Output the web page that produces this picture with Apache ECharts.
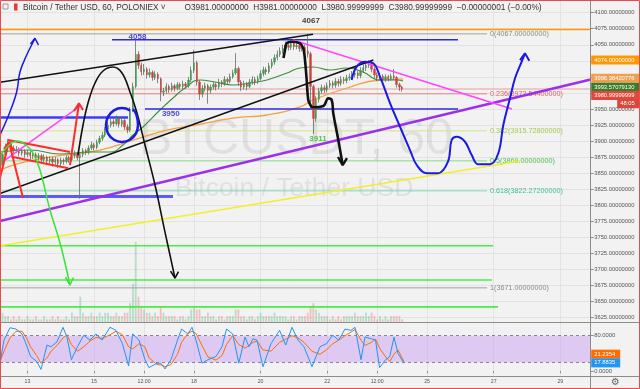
<!DOCTYPE html>
<html><head><meta charset="utf-8">
<script src="https://cdn.jsdelivr.net/npm/echarts@6/dist/echarts.min.js"></script>
<style>html,body{margin:0;padding:0;background:#f2f2f2}#c{width:640px;height:389px}</style>
</head><body><div id="c"></div><script>
// ---------- DATA ----------
const candleStartDay = 12 + 4 / 24;   // Jan 12, 04:00
const candleHours = 2;
const firstOpen = 3858;
const closes = [3862,3879,3891,3897,3889,3885,3887,3881,3884,3879,
3882,3877,3879,3874,3877,3871,3875,3869,3872,3867,
3871,3865,3870,3868,3874,3871,3877,3880,3874,3879,
3885,3882,3889,3894,3890,3898,3904,3909,3918,3925,
3930,3927,3935,3926,3932,3922,3917,3948,3985,4035,
4018,4008,4012,4003,4007,3999,4004,3997,3976,3978,
3985,3980,3986,3982,3988,3985,3989,3986,3995,4010,
4022,3992,3973,3982,3986,3979,3984,3988,3984,3992,
3989,3996,3993,4000,4006,4013,3992,3984,3989,3985,
3992,3996,3992,3997,4005,4011,4008,4017,4023,4030,
4035,4040,4044,4049,4046,4052,4047,4049,4044,4046,
4040,4036,3985,3935,3965,3978,3983,3980,3986,3990,
3987,3993,3990,3996,3994,3998,4000,4003,4006,4002,
4010,4014,4018,4021,4012,4003,3998,4001,3996,4000,
3997,4001,3999,3988,3984,3981];
const highs = [3868,3884,3896,3903,3900,3893,3892,3890,3889,3887,
3886,3885,3884,3882,3881,3880,3879,3877,3876,3875,
3875,3873,3874,3873,3878,3877,3881,3885,3883,3883,
3889,3888,3893,3899,3897,3902,3908,3914,3922,3930,
3936,3934,3940,3938,3937,3934,3926,3953,3991,4058,
4040,4022,4020,4015,4013,4010,4009,4007,3999,3983,
3990,3988,3991,3989,3992,3991,3994,3992,4000,4016,
4042,4025,3995,3987,3991,3989,3988,3993,3991,3997,
3995,4001,3999,4005,4011,4037,4016,3995,3994,3992,
3997,4001,4000,4002,4010,4016,4015,4022,4028,4035,
4041,4046,4050,4055,4054,4057,4056,4055,4053,4052,
4050,4067,4039,3988,3970,3983,3988,3987,3991,3995,
3994,3998,3997,4001,4000,4003,4005,4009,4016,4010,
4015,4019,4023,4026,4024,4015,4007,4006,4004,4004,
4003,4005,4012,4001,3991,3986];
const lows = [3852,3860,3876,3887,3884,3880,3881,3876,3877,3874,
3875,3871,3872,3868,3870,3866,3867,3862,3865,3860,
3863,3858,3861,3863,3865,3866,3868,3873,3870,3810,
3875,3878,3879,3886,3885,3887,3895,3900,3906,3914,
3921,3922,3924,3921,3922,3917,3912,3914,3945,3982,
4012,4002,4003,3997,3999,3994,3995,3990,3962,3970,
3974,3975,3977,3977,3979,3980,3981,3981,3983,3992,
4006,3986,3964,3968,3977,3958,3974,3980,3979,3981,
3984,3986,3988,3990,3997,4003,3986,3978,3980,3979,
3982,3988,3987,3989,3994,4001,4003,4005,4013,4019,
4026,4031,4036,4040,4041,4042,4042,4043,4039,4040,
4034,4030,3950,3911,3930,3960,3974,3975,3976,3982,
3982,3983,3985,3986,3989,3990,3994,3996,3999,3997,
3998,4006,4009,4014,4007,3998,3993,3994,3991,3992,
3993,3994,3995,3983,3978,3977];
const volumes = [2,3,2,2,1,2,1,2,1,1, 2,1,1,2,1,1,2,1,1,2, 1,2,1,1,2,1,3,2,2,8,
3,2,2,3,2,2,3,2,3,3, 2,2,3,2,2,3,3,6,12,25, 8,5,4,3,3,2,3,2,5,3,
2,2,2,2,1,2,2,1,2,4, 5,4,4,2,2,3,2,2,1,2, 2,1,2,2,2,4,4,2,2,1,
2,2,1,2,3,2,2,2,2,3, 2,2,2,2,1,2,2,1,2,2, 2,3,5,6,4,3,2,2,2,1,
2,1,2,1,2,2,2,2,3,2, 2,2,3,2,3,2,1,2,1,2, 1,2,2,2,2,1];

// moving averages [day, price]
const maGreen = [[12.174,3882.8],[13.075,3885.9],[13.976,3879.7],[14.877,3882.8],[15.477,3882.8],[15.868,3893.7],[16.168,3909.3],[16.468,3921.8],[16.979,3948.3],[17.369,3967.0],[17.730,3982.6],[18.180,3995.1],[18.630,3992.0],[19.171,3987.3],[19.682,3990.4],[20.192,3995.1],[20.793,4006.0],[21.183,4013.8],[21.573,4015.3],[22.084,4010.6],[22.594,4013.8],[23.075,4007.5],[23.585,3995.1],[24.096,3995.1],[24.276,3993.6]];
const maOrange = [[12.174,3854.7],[12.775,3865.6],[13.676,3875.0],[15.177,3885.9],[16.168,3901.5],[17.189,3917.1],[18.180,3926.0],[19.171,3935.8],[20.192,3940.5],[21.183,3953.0],[21.573,3963.9],[22.594,3982.6],[23.585,3995.1],[24.276,3996.4]];

// stochastic
const stochDays = [12.174,12.294,12.474,12.654,12.835,12.970,13.093,13.276,13.405,13.585,13.706,13.886,14.066,14.186,14.318,14.501,14.688,14.877,15.057,15.237,15.477,15.657,15.850,16.036,16.159,16.348,16.528,16.648,16.889,17.009,17.129,17.309,17.504,17.627,17.814,17.940,18.060,18.240,18.420,18.660,18.841,18.976,19.162,19.345,19.531,19.651,19.772,19.892,20.072,20.312,20.570,20.754,20.943,21.123,21.303,21.543,21.783,21.979,22.165,22.348,22.534,22.714,22.835,23.015,23.135,23.327,23.450,23.573,23.757,23.880,24.006,24.126,24.306];
const stochK = [18,70,98,95,84,59,33,22,4,59, 55,66,99,77,26,55,81,70,84,70, 99,92,62,12,84,70,26,8,18,18, 5,26,70,95,84,99,70,18,26,33, 55,95,84,18,77,55,73,70,10,62, 92,59,99,70,55,10,55,62,81,70, 95,92,99,26,77,73,70,8,26,33, 77,40,17.8835];
const stochD = [22,45,75,90,90,75,55,35,18,30, 45,58,75,82,60,45,55,68,76,74, 82,90,82,55,50,62,55,30,15,14, 10,15,38,65,85,90,85,58,32,25, 35,60,80,60,52,58,65,68,48,45, 65,72,80,75,65,45,38,48,62,70, 80,88,94,70,58,65,72,52,32,22, 38,48,21.2354];

// axis ticks
const timeTicks = [13,15,16.5,18,20,22,23.5,25,27,29];
const timeTickLabels = ['13','15','12:00','18','20','22','12:00','25','27','29'];
const priceTicks = [3625,3650,3675,3700,3725,3750,3775,3800,3825,3850,3875,3900,3925,3950,3975,4000,4025,4050,4075,4100];
const stochTicks = [0,80];

// fibonacci retracement
const fibRatios = ['0','0.236','0.382','0.5','0.618','1'];
const fibPrices = [4067,3973.544,3915.728,3869,3822.272,3671];
const fibEndDay = 26.80;

// drawings [day, price]
const purpleLine = [[12.174,3775.2],[29.913,3995.8]];
const yellowLine = [[12.174,3736.7],[27.790,3868.7]];
const magentaRight = [[20.973,4057.4],[27.549,3949.8]];
const magentaLeft = [[12.324,3870.3],[14.576,3954.5]];
const blackUpper = [[12.174,3991.5],[21.573,4066.3]];
const blackLower = [[12.174,3818.1],[23.385,4026.2]];
const redFlagTop = [[12.414,3901.5],[14.276,3882.8]];
const redFlagBottom = [[12.525,3875.5],[14.225,3857.4]];
const redArrowUp = [[14.276,3862.5],[14.546,3958.7]];
const redArrowUpHead = [[14.396,3946.7],[14.546,3958.7],[14.667,3948.3]];
const redLeftArrow = [[12.174,3842.3],[12.444,3898.4]];
const redLeftHead = [[12.294,3887.5],[12.444,3898.4],[12.564,3885.9]];
const redDiag = [[12.444,3898.4],[12.865,3811.1]];
const greenCurve = [[12.174,3876.6],[12.414,3892.1],[12.685,3899.9],[12.955,3893.7],[13.165,3881.2],[13.375,3854.7],[13.676,3792.3],[13.976,3740.9],[14.276,3675.4]];
const greenHead = [[14.141,3687.9],[14.276,3675.4],[14.381,3687.1]];
const blackCurve1 = [[14.516,3878.1],[14.667,3924.9],[14.817,3959.2],[15.027,3990.4],[15.267,4009.1],[15.567,4015.3],[15.838,4006.0],[16.078,3976.3],[16.288,3943.6],[16.528,3893.7],[16.829,3831.3],[17.129,3758.0],[17.429,3686.3]];
const blackHead1 = [[17.294,3697.2],[17.429,3686.3],[17.534,3696.4]];
const blackCurve2 = [[20.688,4029.4],[20.733,4041.8],[20.783,4052.3],[20.934,4054.8],[21.183,4052.3],[21.282,4044.5],[21.333,4026.2],[21.384,3995.1],[21.432,3963.9],[21.513,3954.5],[21.583,3952.5],[21.883,3954.5],[22.033,3966.5],[22.135,3963.9],[22.183,3943.1],[22.333,3901.5],[22.465,3862.5]];
const blackHead2 = [[22.324,3875.0],[22.465,3862.5],[22.594,3873.4]];
const blueForecast = [[22.735,3995.1],[22.886,4015.8],[23.135,4023.6],[23.384,4021.1],[23.585,4000.2],[23.886,3959.2],[24.186,3922.2],[24.486,3885.9],[24.688,3862.5],[24.988,3849.6],[25.327,3849.6],[25.627,3867.7],[25.738,3901.5],[25.888,3906.6],[26.138,3898.8],[26.339,3878.1],[26.538,3863.6],[26.889,3863.6],[27.138,3880.8],[27.288,3924.9],[27.489,3966.5],[27.640,3997.7],[27.841,4023.6],[27.940,4036.7]];
const blueForecastHead = [[27.790,4026.2],[27.940,4036.7],[28.069,4025.1]];
const blueLeftArrow = [[12.174,3909.3],[12.474,3945.6],[12.676,3976.8],[12.775,4008.0],[12.976,4034.0],[13.174,4054.8],[13.225,4060.1]];
const blueLeftHead = [[13.090,4051.2],[13.225,4060.1],[13.330,4049.6]];
const blueCircle = [[16.078,3947.8],[15.838,3951.4],[15.597,3947.8],[15.420,3938.1],[15.357,3924.9],[15.420,3911.6],[15.597,3902.0],[15.838,3898.4],[16.078,3902.0],[16.255,3911.6],[16.318,3924.9],[16.273,3940.5],[16.168,3949.8]];

// horizontal lines [price, fromDay, toDay]
const hOrange = [4074, 12.174, 29.913];
const hLast = [3981, 12.174, 29.913];
const hBlue4058 = [4058, 15.537, 25.928];
const hBlue3950 = [3950, 16.528, 25.928];
const hBlueLeft = [3936.6, 12.174, 16.018];
const hBlueLow = [3813.4, 12.174, 17.369];
const hGreens = [[3736.7, 12.174, 26.979],[3683.2, 12.174, 26.949],[3641.3, 12.174, 27.129]];

// text marks [day, price, text]
const textMarks = [[21.513,4087.1,'4067','#111'],[16.303,4062.6,'4058','#2020d0'],[17.303,3943.1,'3950','#2020d0'],[21.723,3904.1,'3911','#22bb22']];

// right-axis value tags [price position, text]
const priceTags = [[4026.2,'4074.00000000','#ff9800'],[3997.7,'3996.38420776','#eea050'],[3983.7,'3993.57079130','#3a7d2c'],[3970.9,'3980.99999999','#e3473b']];
const countdownTag = [3958.1,'48:05','#d9463a'];
const stochTags = [[38.4,'21.2354','#ff6d00'],[18.7,'17.8835','#2196f3']];

// ---------- CHART ----------
const X_MIN = 12.174, X_MAX = 29.913, P_MIN = 3617.0, P_MAX = 4119.8, S_MIN = -10.9, S_MAX = 109.8;
const FONT = 'Liberation Sans, Arial, sans-serif';
const t = i => candleStartDay + i * candleHours / 24;
const opens = closes.map((c, i) => i === 0 ? firstOpen : closes[i - 1]);
const CLEAR = 'rgba(0,0,0,0)';

const series = [];
function addLine(points, color, width, extra) {
  series.push(Object.assign({type: 'line', xAxisIndex: 0, yAxisIndex: 0, data: points, symbol: 'none',
    silent: true, animation: false, lineStyle: {color: color, width: width}, z: 4}, extra || {}));
}
function addH(h, color, width, extra) { addLine([[h[1], h[0]], [h[2], h[0]]], color, width, extra); }

// volume
series.push({type: 'bar', xAxisIndex: 0, yAxisIndex: 2, barWidth: 1.8, silent: true, animation: false, z: 1,
  data: volumes.map((v, i) => ({value: [t(i), v], itemStyle: {color: closes[i] >= opens[i] ? 'rgba(70,175,110,0.33)' : 'rgba(230,90,90,0.33)'}}))});

// fib
const fibLineColors = ['#a0a0a0','#e88080','#cfe38a','#86dc86','#7fd8c0','#a0a0a0'];
const fibTextColors = ['#8a8a8a','#e06060','#a5c84a','#4cbf4c','#40c09c','#8a8a8a'];
fibPrices.forEach((p, k) => {
  addLine([[X_MIN, p], [fibEndDay, p]], fibLineColors[k], 1, {z: 3,
    endLabel: {show: true, formatter: fibRatios[k] + '(' + p.toFixed(8) + ')', color: fibTextColors[k], fontSize: 7.2, fontFamily: FONT, distance: 3}});
});

addH(hOrange, '#ff9800', 1.5, {z: 3});
addH(hLast, 'rgba(225,90,80,0.55)', 1, {z: 3});
addH(hBlue4058, '#2a2ae0', 1.5);
addH(hBlue3950, '#2a2ae0', 1.5);
addH(hBlueLeft, '#3b3bff', 2.5);
addH(hBlueLow, '#5a5aff', 3);
hGreens.forEach(h => addH(h, '#44ee44', 1.6));

// MAs
addLine(maOrange, '#f5a040', 1.3, {smooth: 0.5, z: 3});
addLine(maGreen, '#3c8f3c', 1.1, {smooth: 0.5, z: 3});

// candles: wicks then bodies
series.push({type: 'candlestick', xAxisIndex: 0, yAxisIndex: 0, silent: true, animation: false, z: 5, barWidth: 0.6,
  encode: {x: 0, y: [1, 2, 3, 4]},
  data: closes.map((c, i) => [t(i), opens[i], c, lows[i], highs[i]]),
  itemStyle: {color: '#666', color0: '#666', borderColor: '#6a6a6a', borderColor0: '#6a6a6a', borderWidth: 0.8}});
series.push({type: 'candlestick', xAxisIndex: 0, yAxisIndex: 0, silent: true, animation: false, z: 6, barWidth: 1.9,
  encode: {x: 0, y: [1, 2, 3, 4]},
  data: closes.map((c, i) => [t(i), opens[i], c, Math.min(opens[i], c), Math.max(opens[i], c)]),
  itemStyle: {color: '#3f9b4f', color0: '#c8443a', borderColor: '#3f9b4f', borderColor0: '#c8443a', borderWidth: 0.4}});

// trend lines
addLine(purpleLine, '#9b30e8', 2.5, {z: 7});
addLine(yellowLine, '#f0f028', 1.6, {z: 7});
addLine(magentaRight, '#ff44ff', 1.5, {z: 7});
addLine(magentaLeft, '#ff44ff', 1.5, {z: 7});
addLine(blackUpper, '#111', 1.6, {z: 7});
addLine(blackLower, '#111', 1.6, {z: 7});

// hand drawings
const red = '#ff2a2a';
[redFlagTop, redFlagBottom, redArrowUp, redArrowUpHead, redLeftArrow, redLeftHead, redDiag].forEach(p => addLine(p, red, 2, {z: 8}));
addLine(greenCurve, '#33e633', 1.5, {smooth: 0.4, z: 8});
addLine(greenHead, '#33e633', 1.5, {z: 8});
addLine(blackCurve1, '#111', 1.6, {smooth: 0.4, z: 8});
addLine(blackHead1, '#111', 1.6, {z: 8});
addLine(blackCurve2, '#111', 2.6, {smooth: 0.4, z: 8});
addLine(blackHead2, '#111', 2.4, {z: 8});
addLine(blueForecast, '#1a1ae6', 2, {smooth: 0.4, z: 8});
addLine(blueForecastHead, '#1a1ae6', 2, {z: 8});
addLine(blueLeftArrow, '#1a1ae6', 1.5, {smooth: 0.4, z: 8});
addLine(blueLeftHead, '#1a1ae6', 1.5, {z: 8});
addLine(blueCircle, '#1a1ae6', 2.5, {smooth: 0.5, z: 8});

// text marks
series.push({type: 'scatter', xAxisIndex: 0, yAxisIndex: 0, symbolSize: 0, silent: true, animation: false, z: 9,
  data: textMarks.map(m => ({value: [m[0], m[1]], label: {show: true, position: 'inside', formatter: m[2], color: m[3], fontSize: 8, fontWeight: 'bold', fontFamily: FONT}}))});

// right axis tags
function tagItem(price, text, bg, dist, width) {
  return {yAxis: price, lineStyle: {color: CLEAR, width: 0},
    label: {show: true, position: 'end', distance: dist, formatter: text, color: '#fff', backgroundColor: bg, opacity: 1,
      fontSize: 5.8, fontFamily: FONT, lineHeight: 7, padding: [1, 2, 1, 3], width: width}};
}
series.push({type: 'line', xAxisIndex: 0, yAxisIndex: 0, data: [[X_MIN, P_MIN]], symbol: 'none', silent: true, animation: false,
  lineStyle: {color: CLEAR, width: 0}, z: 20,
  markLine: {symbol: 'none', silent: true, animation: false, lineStyle: {color: CLEAR, width: 0}, z: 20,
    data: priceTags.map(g => tagItem(g[0], g[1], g[2], 0.5, 44)).concat([tagItem(countdownTag[0], countdownTag[1], countdownTag[2], 26.5, 18)])}});

// stochastic
series.push({type: 'line', xAxisIndex: 1, yAxisIndex: 1, data: stochDays.map((d, i) => [d, stochD[i]]), symbol: 'none', silent: true, animation: false,
  lineStyle: {color: '#ff6d00', width: 1}, z: 4,
  markArea: {silent: true, itemStyle: {color: 'rgba(190,140,240,0.4)'}, data: [[{yAxis: 20}, {yAxis: 80}]]},
  markLine: {symbol: 'none', silent: true, animation: false, z: 3, lineStyle: {color: '#8e7e9e', type: [3, 3], width: 1},
    label: {show: false}, data: [{yAxis: 80}, {yAxis: 20}]}});
series.push({type: 'line', xAxisIndex: 1, yAxisIndex: 1, data: stochDays.map((d, i) => [d, stochK[i]]), symbol: 'none', silent: true, animation: false,
  lineStyle: {color: '#2196f3', width: 1}, z: 5});
series.push({type: 'line', xAxisIndex: 1, yAxisIndex: 1, data: [[X_MIN, 0]], symbol: 'none', silent: true, animation: false,
  lineStyle: {color: CLEAR, width: 0}, z: 20,
  markLine: {symbol: 'none', silent: true, animation: false, lineStyle: {color: CLEAR, width: 0}, z: 20,
    data: stochTags.map(g => tagItem(g[0], g[1], g[2], 0.5, 24))}});

const timeFmt = v => { const k = timeTicks.findIndex(x => Math.abs(x - v) < 1e-6); return k < 0 ? '' : timeTickLabels[k]; };
const gridColor = '#e3e3e3';

const option = {
  animation: false,
  backgroundColor: '#f2f2f2',
  grid: [
    {left: 0, top: 0, width: 590.7, height: 322.5},
    {left: 0, top: 322.5, width: 590.7, height: 53.5}
  ],
  xAxis: [
    {type: 'value', gridIndex: 0, min: X_MIN, max: X_MAX, axisLine: {show: false}, axisLabel: {show: false},
      axisTick: {show: false, customValues: timeTicks}, splitLine: {show: true, lineStyle: {color: gridColor, width: 1}}},
    {type: 'value', gridIndex: 1, min: X_MIN, max: X_MAX, axisLine: {show: false},
      axisLabel: {customValues: timeTicks, formatter: timeFmt, fontSize: 5.2, color: '#555', fontFamily: FONT, margin: 3},
      axisTick: {show: true, customValues: timeTicks, length: 2, lineStyle: {color: '#888'}},
      splitLine: {show: true, lineStyle: {color: gridColor, width: 1}}}
  ],
  yAxis: [
    {type: 'value', gridIndex: 0, position: 'right', min: P_MIN, max: P_MAX, axisLine: {show: false},
      axisTick: {show: true, customValues: priceTicks, length: 3, lineStyle: {color: '#888'}},
      axisLabel: {customValues: priceTicks, formatter: v => v.toFixed(8), fontSize: 5.8, color: '#555', fontFamily: FONT, margin: 3.5},
      splitLine: {show: true, lineStyle: {color: gridColor, width: 1}}},
    {type: 'value', gridIndex: 1, position: 'right', min: S_MIN, max: S_MAX, axisLine: {show: false},
      axisTick: {show: true, customValues: stochTicks, length: 3, lineStyle: {color: '#888'}},
      axisLabel: {customValues: stochTicks, formatter: v => v.toFixed(4), fontSize: 5.8, color: '#555', fontFamily: FONT, margin: 3.5},
      splitLine: {show: false}},
    {type: 'value', gridIndex: 0, min: 0, max: 100, show: false}
  ],
  graphic: [
    {type: 'text', z: 1, silent: true, style: {text: 'BTCUSDT, 60', x: 296, y: 140, align: 'center', verticalAlign: 'middle', textAlign: 'center', textVerticalAlign: 'middle', font: '50px ' + FONT, fill: 'rgba(0,0,0,0.075)'}},
    {type: 'text', z: 1, silent: true, style: {text: 'Bitcoin / Tether USD', x: 294, y: 189, align: 'center', verticalAlign: 'middle', textAlign: 'center', textVerticalAlign: 'middle', font: '26.5px ' + FONT, fill: 'rgba(0,0,0,0.075)'}},
    {type: 'line', z: 50, silent: true, shape: {x1: 590.5, y1: 0, x2: 590.5, y2: 389}, style: {stroke: '#8c8c8c', lineWidth: 1}},
    {type: 'line', z: 50, silent: true, shape: {x1: 0, y1: 322.5, x2: 640, y2: 322.5}, style: {stroke: '#8c8c8c', lineWidth: 1}},
    {type: 'line', z: 50, silent: true, shape: {x1: 0, y1: 376.5, x2: 640, y2: 376.5}, style: {stroke: '#8c8c8c', lineWidth: 1}},
    {type: 'rect', z: 60, silent: true, shape: {x: 3, y: 4, width: 5, height: 5}, style: {fill: 'none', stroke: '#888', lineWidth: 0.8}},
    {type: 'rect', z: 60, silent: true, shape: {x: 14, y: 3.5, width: 3.5, height: 7}, style: {fill: '#e53935'}},
    {type: 'text', z: 60, silent: true, style: {text: 'Bitcoin / Tether USD, 60, POLONIEX \u02c5', x: 23, y: 7.5, verticalAlign: 'middle', textVerticalAlign: 'middle', font: '8.3px ' + FONT, fill: '#333'}},
    {type: 'text', z: 60, silent: true, style: {text: 'O3981.00000000  H3981.00000000  L3980.99999999  C3980.99999999  \u22120.00000001 (\u22120.00%)', x: 184.5, y: 7.5, verticalAlign: 'middle', textVerticalAlign: 'middle', font: '8.3px ' + FONT, fill: '#333'}},
    {type: 'text', z: 60, silent: true, style: {text: '\u2699', x: 615.5, y: 382.5, align: 'center', verticalAlign: 'middle', textAlign: 'center', textVerticalAlign: 'middle', font: '10px DejaVu Sans', fill: '#666'}},
    {type: 'rect', z: 100, silent: true, shape: {x: 0.5, y: 0.5, width: 639, height: 388}, style: {fill: 'none', stroke: '#ec4a4a', lineWidth: 1}}
  ],
  series: series
};
const chart = echarts.init(document.getElementById('c'), null, {renderer: 'canvas', width: 640, height: 389});
chart.setOption(option);
</script></body></html>
